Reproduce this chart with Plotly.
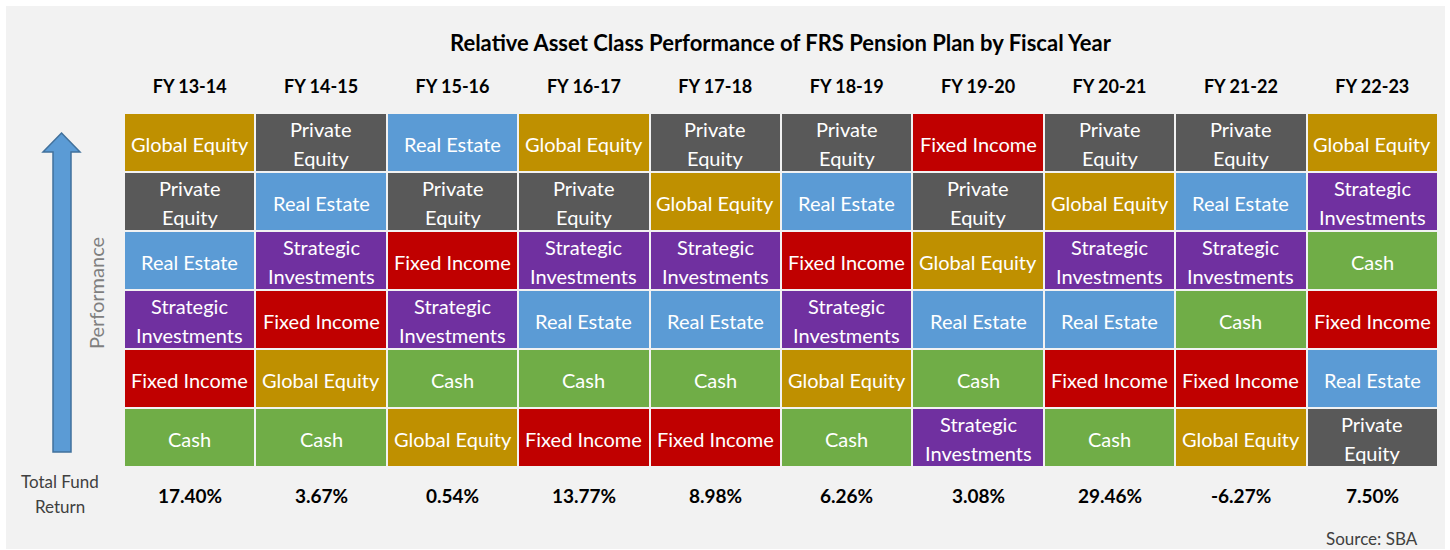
import plotly.graph_objects as go

# ---------------- data ----------------
years = ["FY 13-14", "FY 14-15", "FY 15-16", "FY 16-17", "FY 17-18",
         "FY 18-19", "FY 19-20", "FY 20-21", "FY 21-22", "FY 22-23"]

asset_classes = ["Global Equity", "Private Equity", "Real Estate",
                 "Strategic Investments", "Fixed Income", "Cash"]
class_colors = ["#BF9000", "#595959", "#5B9BD5", "#7030A0", "#C00000", "#70AD47"]
class_lines = [["Global Equity"], ["Private", "Equity"], ["Real Estate"],
               ["Strategic", "Investments"], ["Fixed Income"], ["Cash"]]

# ranking per fiscal year, best (top) to worst (bottom)
ranking = {
    "FY 13-14": ["Global Equity", "Private Equity", "Real Estate", "Strategic Investments", "Fixed Income", "Cash"],
    "FY 14-15": ["Private Equity", "Real Estate", "Strategic Investments", "Fixed Income", "Global Equity", "Cash"],
    "FY 15-16": ["Real Estate", "Private Equity", "Fixed Income", "Strategic Investments", "Cash", "Global Equity"],
    "FY 16-17": ["Global Equity", "Private Equity", "Strategic Investments", "Real Estate", "Cash", "Fixed Income"],
    "FY 17-18": ["Private Equity", "Global Equity", "Strategic Investments", "Real Estate", "Cash", "Fixed Income"],
    "FY 18-19": ["Private Equity", "Real Estate", "Fixed Income", "Strategic Investments", "Global Equity", "Cash"],
    "FY 19-20": ["Fixed Income", "Private Equity", "Global Equity", "Real Estate", "Cash", "Strategic Investments"],
    "FY 20-21": ["Private Equity", "Global Equity", "Strategic Investments", "Real Estate", "Fixed Income", "Cash"],
    "FY 21-22": ["Private Equity", "Real Estate", "Strategic Investments", "Cash", "Fixed Income", "Global Equity"],
    "FY 22-23": ["Global Equity", "Strategic Investments", "Cash", "Fixed Income", "Real Estate", "Private Equity"],
}
ranks = [1, 2, 3, 4, 5, 6]

total_fund_return = ["17.40%", "3.67%", "0.54%", "13.77%", "8.98%",
                     "6.26%", "3.08%", "29.46%", "-6.27%", "7.50%"]

title_text = "Relative Asset Class Performance of FRS Pension Plan by Fiscal Year"

# ---------------- layout geometry ----------------
W, H = 1450, 550
L, R, T, B = 124, 1438, 113, 467
PW, PH = R - L, B - T


def px2x(px):
    return (px - L) / PW


def py2y(py):
    return (B - py) / PH


FONT = "Lato, Calibri, Carlito, sans-serif"

# ---------------- heatmap of classes ----------------
n = len(asset_classes)
z = [[asset_classes.index(ranking[yr][r - 1]) for yr in years] for r in ranks]
colorscale = []
for i, c in enumerate(class_colors):
    colorscale.append([i / n, c])
    colorscale.append([(i + 1) / n, c])

fig = go.Figure()
fig.add_trace(go.Heatmap(
    x=years, y=ranks, z=z,
    zmin=-0.5, zmax=n - 0.5,
    colorscale=colorscale, showscale=False,
    xgap=2, ygap=2, hoverinfo="skip",
))

annotations = []


def ann(**kw):
    d = dict(showarrow=False, xanchor="center", yanchor="middle")
    d.update(kw)
    annotations.append(d)


# cell labels
for yr in years:
    for r in ranks:
        cls = ranking[yr][r - 1]
        lines = class_lines[asset_classes.index(cls)]
        shifts = [-1] if len(lines) == 1 else [13.5, -15.5]
        for txt, sh in zip(lines, shifts):
            ann(x=yr, y=r, xref="x", yref="y", text=txt, yshift=sh,
                font=dict(family=FONT, size=20, color="white"))

# total fund return values
for yr, val in zip(years, total_fund_return):
    ann(x=yr, y=py2y(495), xref="x", yref="paper", text="<b>" + val + "</b>",
        font=dict(family=FONT, size=19, color="black"))

# title
ann(x=px2x(781), y=py2y(42), xref="paper", yref="paper",
    text="<b>" + title_text + "</b>", font=dict(family=FONT, size=22, color="black"))
# left side labels
ann(x=px2x(96), y=py2y(293), xref="paper", yref="paper", text="Performance",
    textangle=-90, font=dict(family=FONT, size=20, color="#7F7F7F"))
ann(x=px2x(60), y=py2y(482), xref="paper", yref="paper", text="Total Fund",
    font=dict(family=FONT, size=17, color="#404040"))
ann(x=px2x(60), y=py2y(506), xref="paper", yref="paper", text="Return",
    font=dict(family=FONT, size=17, color="#404040"))
ann(x=px2x(1372), y=py2y(538), xref="paper", yref="paper", text="Source: SBA",
    font=dict(family=FONT, size=17, color="#404040"))

shapes = [
    # grey panel
    dict(type="rect", xref="paper", yref="paper", layer="below",
         x0=px2x(6), x1=px2x(1445), y0=py2y(549), y1=py2y(6),
         fillcolor="#F2F2F2", line=dict(width=0)),
]
# up arrow
pts = [(61.5, 133), (80, 152), (71, 152), (71, 452), (53, 452), (53, 152), (43, 152)]
path = "M " + " L ".join(f"{px2x(a):.5f},{py2y(b):.5f}" for a, b in pts) + " Z"
shapes.append(dict(type="path", xref="paper", yref="paper", path=path,
                   fillcolor="#5B9BD5", line=dict(color="#41719C", width=1.5)))

fig.update_layout(
    width=W, height=H,
    margin=dict(l=L, r=W - R, t=T, b=H - B, pad=0),
    paper_bgcolor="white", plot_bgcolor="white",
    showlegend=False,
    annotations=annotations, shapes=shapes,
    xaxis=dict(side="top", type="category", range=[-0.5, len(years) - 0.5],
               showgrid=False, zeroline=False, ticks="", ticklabelstandoff=15,
               tickfont=dict(family=FONT, size=18, color="black", weight="bold"),
               fixedrange=True),
    yaxis=dict(range=[6.5, 0.5], showgrid=False, zeroline=False,
               showticklabels=False, ticks="", fixedrange=True),
)

fig.write_html("out.html", config={"displayModeBar": False},
               post_script="document.body.style.margin='0';")
